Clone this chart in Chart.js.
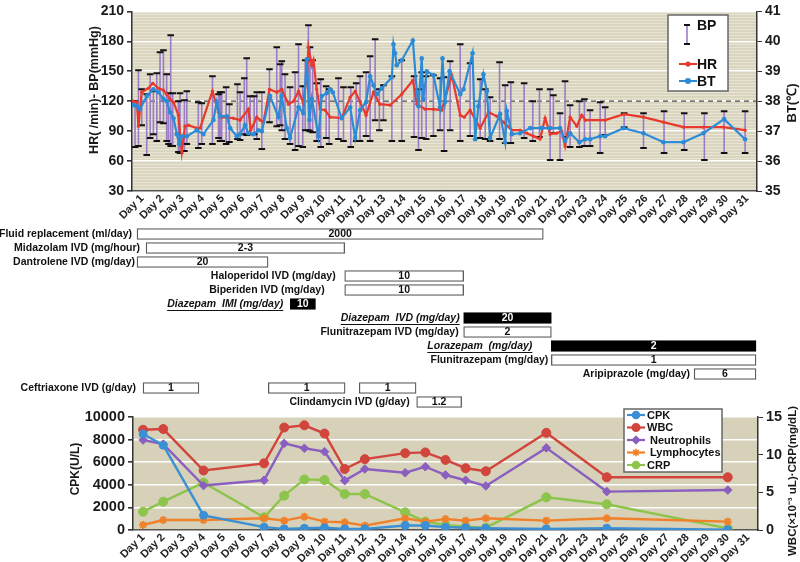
<!DOCTYPE html>
<html><head><meta charset="utf-8">
<script src="https://cdn.jsdelivr.net/npm/chart.js@4.4.1/dist/chart.umd.min.js"></script>
<style>
html,body{margin:0;padding:0;background:#fff;}
#wrap{position:relative;width:800px;height:562px;overflow:hidden;}
canvas{position:absolute;left:0;}
</style></head><body>
<div id="wrap">
<canvas id="cTop" width="800" height="228" style="top:0px"></canvas>
<canvas id="cMid" width="800" height="190" style="top:222px"></canvas>
<canvas id="cBot" width="800" height="162" style="top:400px"></canvas>
</div>
<script>
// ---------------- DATA ----------------
const dayNums = [1,2,3,4,5,6,7,8,9,10,11,12,13,14,15,16,17,18,19,20,21,22,23,24,25,26,27,28,29,30,31];
const dayLabels = dayNums.map(d => 'Day ' + d);

// Blood pressure (mmHg): time in days, systolic (high) and diastolic (low)
const bpDay = [0.65,0.82,0.98,1.23,1.40,1.56,1.73,1.89,2.06,2.22,2.31,2.42,2.52,2.80,2.88,3.10,3.22,3.79,3.96,4.49,4.79,4.87,4.95,5.17,5.33,5.73,5.86,6.07,6.19,6.36,6.56,6.69,6.94,7.32,7.68,
  7.85,7.93,8.09,8.34,8.59,8.76,8.97,9.09,9.25,9.33,9.46,9.66,9.86,10.13,10.28,10.74,10.99,11.35,11.62,11.81,12.11,12.31,12.56,12.77,12.97,13.39,13.88,14.49,14.71,14.87,15.09,15.45,15.78,15.98,16.28,16.78,17.27,17.77,18.02,18.26,18.73,19.01,19.29,
  19.95,20.38,20.71,21.24,21.40,21.73,21.98,22.23,22.69,22.94,23.22,23.72,23.97,24.91,25.87,26.89,27.89,28.89,29.87,30.91];
const bpHigh = [120,151,132,127,147,130,148,169,171,147,128,186,128,120,128,121,130,119,118,145,127,129,129,134,117,137,129,143,163,125,125,129,129,152,174,
  157,160,147,134,149,177,135,161,196,174,161,138,142,135,132,143,134,134,138,145,149,165,182,132,136,145,161,145,132,149,145,146,143,144,160,177,158,142,132,124,159,136,139,
  138,120,132,132,126,108,140,116,120,122,111,119,114,108,108,110,108,108,110,110];
const bpLow = [74,75,96,66,83,87,80,99,98,80,77,75,75,69,68,70,77,73,77,77,83,80,80,77,79,82,81,87,86,87,87,82,72,99,95,
  96,91,82,77,71,75,74,91,91,90,89,80,74,83,77,82,80,74,80,80,85,80,101,91,101,80,80,84,71,83,82,85,91,70,91,80,85,83,82,80,82,78,78,
  83,80,84,61,88,61,84,74,74,75,75,68,86,94,73,68,71,61,68,68];

// Heart rate (/min)
const hrDay = [0.57,0.74,0.82,0.98,1.31,1.53,1.81,2.06,2.22,2.39,2.56,2.80,2.97,3.13,3.30,3.71,3.88,4.49,4.79,4.95,5.53,5.86,6.27,6.39,6.69,6.86,7.02,7.32,7.68,
  7.93,8.26,8.51,8.76,9.00,9.17,9.25,9.42,9.50,9.66,9.83,10.08,10.33,10.90,11.32,11.57,12.11,12.48,12.80,13.30,13.88,14.43,14.63,15.04,15.45,15.86,16.36,16.78,16.98,17.27,17.77,18.18,18.59,18.92,19.34,
  19.75,20.08,20.41,20.74,20.99,21.24,21.57,21.82,21.98,22.23,22.56,22.81,22.98,23.97,24.91,25.87,26.86,27.85,28.84,29.84,30.91];
const hrVal = [120,119,95,129,133,138,133,131,127,122,119,106,69,95,96,93,93,130,109,104,103,101,112,91,104,101,99,132,129,
  132,117,120,130,118,145,174,156,161,132,112,111,104,103,124,130,106,129,117,116,127,141,117,112,112,111,146,106,104,111,93,109,105,99,91,
  91,88,85,82,103,87,88,90,75,104,95,106,101,101,107,104,99,94,94,94,91];

// Body temperature (deg C)
const btDay = [0.57,0.74,0.90,1.23,1.56,1.81,2.06,2.22,2.39,2.56,2.72,2.84,2.97,3.22,3.71,4.04,4.54,4.70,4.87,5.20,5.37,5.70,5.86,6.11,6.27,6.52,6.77,6.94,
  7.35,7.76,7.93,8.18,8.34,8.76,9.00,9.17,9.30,9.42,9.75,9.91,10.16,10.33,10.46,10.90,11.32,11.57,11.81,12.11,12.31,12.48,12.64,12.89,13.39,13.47,13.55,13.63,13.88,14.43,14.63,14.71,14.87,14.95,15.12,15.45,15.78,15.90,16.03,16.25,16.78,16.94,17.39,17.52,17.68,17.93,18.10,18.26,18.76,19.01,19.09,19.34,
  19.75,20.25,20.82,21.24,21.73,21.98,22.23,22.69,22.98,23.22,23.72,23.97,24.88,25.87,26.86,27.85,28.84,29.87,30.91];
const btVal = [37.87,37.83,37.73,38.17,38.40,38.30,38.07,38.0,37.63,37.43,36.9,36.57,36.83,36.83,37.03,36.9,37.37,37.97,37.5,37.5,37.1,36.83,36.9,37.2,36.93,36.9,37.03,37.0,
  38.17,37.47,38.17,37.1,36.77,37.8,37.6,39.4,37.37,38.07,36.83,38.17,38.27,38.4,38.3,37.43,37.8,36.77,37.7,37.97,38.83,38.53,38.23,38.43,38.8,39.9,39.6,39.2,39.37,40.03,38.3,37.83,39.43,38.07,39.0,38.87,37.8,39.43,37.97,39.0,38.23,38.4,39.6,36.73,37.83,38.9,38.33,36.77,37.57,36.63,37.67,36.9,
  36.93,37.1,37.1,37.1,37.1,36.67,36.93,36.63,36.73,36.73,36.83,36.83,37.1,36.93,36.63,36.63,36.93,37.4,36.73];
const feverLine = 38;

// Treatments
const rowKeys = ['r0','r1','r2','r3','r4','r5','r6','r7','r8','r9','r10','r11','r12'];
const drugNames = ['Fluid replacement (ml/day)','Midazolam IVD (mg/hour)','Dantrolene IVD (mg/day)','Haloperidol IVD (mg/day)','Biperiden IVD (mg/day)',
  'Diazepam  IMI (mg/day)','Diazepam  IVD (mg/day)','Flunitrazepam IVD (mg/day)','Lorazepam  (mg/day)','Flunitrazepam (mg/day)','Aripiprazole (mg/day)',
  'Ceftriaxone IVD (g/day)','','','Clindamycin IVD (g/day)'];
const drugRow   = [0,1,2,3,4,5,6,7,8,9,10,11,11,11,12];
const drugStart = [0.75,1.2,0.75,11.05,11.05,8.35,16.95,16.95,21.3,21.3,28.38,1.05,7.26,11.77,14.62];
const drugEnd   = [20.9,11.05,7.25,16.95,16.95,9.6,21.3,21.3,31.45,31.45,31.45,3.82,11.07,14.59,16.85];
const drugDose  = ['2000','2-3','20','10','10','10','20','2','2','1','6','1','1','1','1.2'];
const drugFilled= [false,false,false,false,false,true,true,false,true,false,false,false,false,false,false];

// Laboratory data
const labDays = [1,2,4,7,8,9,10,11,12,14,15,16,17,18,21,24,30];
const cpk   = [8500,7500,1300,250,100,150,200,100,100,400,400,250,200,150,100,150,30];
const wbc   = [13.3,13.4,7.9,8.85,13.6,13.9,12.8,8.1,9.4,10.2,10.3,9.3,8.2,7.8,12.9,7.0,7.0];
const neut  = [11.95,11.4,5.9,6.6,11.5,10.85,10.4,6.55,8.1,7.6,8.4,7.3,6.6,5.85,10.9,5.1,5.3];
const lymph = [0.66,1.33,1.33,1.55,1.24,1.77,1.11,1.02,0.58,1.55,1.11,1.46,1.24,1.55,1.24,1.55,1.11];
const crp   = [2.43,3.76,6.28,1.68,4.56,6.72,6.64,4.78,4.78,2.35,1.11,0.66,0.44,0.31,4.34,3.41,0.22];

// ---------------- STYLE ----------------
const FONT = "'Liberation Sans', Arial, Helvetica, sans-serif";
Chart.defaults.font.family = FONT;
Chart.defaults.color = '#1a1a1a';
const BP_C = '#9a7cc6', HR_C = '#e8392c', BT_C = '#2b8bd6';
const CPK_C = '#3b8fd4', WBC_C = '#d1453d', NEU_C = '#8a5fc0', LYM_C = '#f0802a', CRP_C = '#8dc44c';
const drugLabelGap = [5,6,2,9,20,7,4,5,19,3,4,7,0,0,7];

function bgPlugin(color){
  return {id:'bg', beforeDraw(chart){
    const {ctx, chartArea:a} = chart; ctx.save(); ctx.fillStyle = color;
    ctx.fillRect(a.left, a.top, a.right-a.left, a.bottom-a.top); ctx.restore();
  }};
}
function vText(ctx, text, x, y, font){
  ctx.save(); ctx.translate(x, y); ctx.rotate(-Math.PI/2);
  ctx.font = font; ctx.fillStyle = '#1a1a1a'; ctx.textAlign = 'center'; ctx.textBaseline = 'middle';
  ctx.fillText(text, 0, 0); ctx.restore();
}
function marker(ctx, style, x, y, r, color){
  ctx.save(); ctx.fillStyle = color; ctx.strokeStyle = color; ctx.lineWidth = 1.5;
  if (Chart.helpers && Chart.helpers.drawPoint) {
    Chart.helpers.drawPoint(ctx, {pointStyle: style, radius: r, borderWidth: 1.5, rotation: 0}, x, y);
  } else { ctx.beginPath(); ctx.arc(x, y, r, 0, Math.PI*2); ctx.fill(); }
  ctx.restore();
}
function xDayScale(h){
  return {type:'linear', min:0.5, max:31.5,
    afterBuildTicks: ax => { ax.ticks = dayNums.map(v => ({value:v})); },
    ticks:{autoSkip:false, maxRotation:45, minRotation:45, padding:1, font:{size:11, weight:'bold'}, color:'#222',
      callback: v => dayLabels[Math.round(v)-1]},
    grid:{display:false, drawTicks:false}, border:{display:true, color:'#555', width:1.5},
    afterFit: ax => { ax.height = h; }};
}
const plainNum = v => String(v);

// ---------------- TOP CHART ----------------
const bpSegments = [];
bpDay.forEach((d,i) => { bpSegments.push({x:d,y:bpLow[i]}, {x:d,y:bpHigh[i]}, {x:d,y:null}); });
const bpCaps = [];
bpDay.forEach((d,i) => { bpCaps.push({x:d,y:bpLow[i]}, {x:d,y:bpHigh[i]}); });

const topDeco = {id:'topDeco', afterDraw(chart){
  const ctx = chart.ctx;
  vText(ctx, 'HR( /min)- BP(mmHg)', 95, 90, 'bold 12.5px ' + FONT);
  vText(ctx, 'BT(\u2103)', 792, 103, 'bold 13px ' + FONT);
  // legend
  ctx.save();
  ctx.fillStyle = '#fff'; ctx.strokeStyle = '#666'; ctx.lineWidth = 1.5;
  ctx.fillRect(668, 15, 60, 76); ctx.strokeRect(668, 15, 60, 76);
  ctx.strokeStyle = BP_C; ctx.lineWidth = 1.6;
  ctx.beginPath(); ctx.moveTo(687, 25); ctx.lineTo(687, 44); ctx.stroke();
  ctx.strokeStyle = '#111'; ctx.lineWidth = 2;
  ctx.beginPath(); ctx.moveTo(684, 25); ctx.lineTo(690, 25); ctx.moveTo(684, 44); ctx.lineTo(690, 44); ctx.stroke();
  ctx.font = 'bold 14px ' + FONT; ctx.fillStyle = '#111'; ctx.textAlign = 'left'; ctx.textBaseline = 'middle';
  ctx.fillText('BP', 697, 26);
  ctx.strokeStyle = HR_C; ctx.lineWidth = 2;
  ctx.beginPath(); ctx.moveTo(679, 64); ctx.lineTo(697, 64); ctx.stroke();
  marker(ctx, 'circle', 688, 64, 1.8, HR_C);
  ctx.fillText('HR', 697, 65);
  ctx.strokeStyle = BT_C; ctx.lineWidth = 2;
  ctx.beginPath(); ctx.moveTo(679, 81); ctx.lineTo(697, 81); ctx.stroke();
  marker(ctx, 'circle', 688, 81, 2.3, BT_C);
  ctx.fillText('BT', 697, 82);
  ctx.restore();
}};

new Chart(document.getElementById('cTop'), {
  type:'line',
  data:{datasets:[
    {type:'line', label:'BP', data:bpSegments, borderColor:BP_C, borderWidth:1.6, pointRadius:0, spanGaps:false, yAxisID:'y', order:6},
    {type:'scatter', label:'BP caps', data:bpCaps, pointStyle:'line', pointRadius:3.3, pointBorderWidth:2, pointBorderColor:'#111', pointBackgroundColor:'#111', yAxisID:'y', order:5},
    {type:'line', label:'38', data:[{x:0.5,y:feverLine},{x:31.5,y:feverLine}], borderColor:'#4a4a4a', borderWidth:1.3, borderDash:[5,4], pointRadius:0, yAxisID:'y1', order:7},
    {type:'line', label:'HR', data:hrDay.map((d,i)=>({x:d,y:hrVal[i]})), borderColor:HR_C, borderWidth:2.2, pointRadius:1.6, pointBackgroundColor:HR_C, pointBorderWidth:0, yAxisID:'y', order:2},
    {type:'line', label:'BT', data:btDay.map((d,i)=>({x:d,y:btVal[i]})), borderColor:BT_C, borderWidth:2.2, pointRadius:2.3, pointBackgroundColor:BT_C, pointBorderWidth:0, yAxisID:'y1', order:1}
  ]},
  options:{
    responsive:false, animation:false, devicePixelRatio:1,
    layout:{padding:{top:6, left:0, right:0, bottom:0}},
    plugins:{legend:{display:false}, tooltip:{enabled:false}},
    scales:{
      x: xDayScale(37),
      y: {type:'linear', position:'left', min:30, max:210,
        ticks:{stepSize:30, font:{size:14, weight:'bold'}, color:'#1a1a1a', padding:3, callback: plainNum},
        grid:{color:'#ffffff', lineWidth:1.6, tickColor:'#333', tickLength:5}, border:{color:'#333', width:1.5},
        afterFit: ax => { ax.width = 132; }},
      ym: {type:'linear', position:'left', min:30, max:210,
        ticks:{stepSize:3, display:false},
        grid:{color: c => (c.tick && Math.round(c.tick.value) % 30 === 0) ? 'rgba(0,0,0,0)' : '#e8e5d6', lineWidth:1, drawTicks:false},
        border:{display:false}, afterFit: ax => { ax.width = 0; }},
      y1: {type:'linear', position:'right', min:35, max:41,
        ticks:{stepSize:1, font:{size:14, weight:'bold'}, color:'#1a1a1a', padding:3, callback: plainNum},
        grid:{drawOnChartArea:false, tickColor:'#333', tickLength:5}, border:{color:'#333', width:1.5},
        afterFit: ax => { ax.width = 43; }}
    }
  },
  plugins:[bgPlugin('#d9d5be'), topDeco]
});

// ---------------- TREATMENT CHART ----------------
const drugText = {id:'drugText', afterDatasetsDraw(chart){
  const ctx = chart.ctx; const meta = chart.getDatasetMeta(0);
  ctx.save(); ctx.textBaseline = 'middle';
  meta.data.forEach((bar, i) => {
    const p = bar.getProps(['x','base','y'], true);
    const left = Math.min(p.x, p.base), right = Math.max(p.x, p.base);
    ctx.font = 'bold 10.5px ' + FONT; ctx.textAlign = 'center';
    ctx.fillStyle = drugFilled[i] ? '#fff' : '#111';
    ctx.fillText(drugDose[i], (left+right)/2, p.y + 0.5);
    if (drugNames[i]) {
      ctx.font = (drugFilled[i] ? 'italic ' : '') + 'bold 10.5px ' + FONT;
      ctx.textAlign = 'right'; ctx.fillStyle = '#111';
      const tx = left - drugLabelGap[i];
      ctx.fillText(drugNames[i], tx, p.y + 0.5);
      if (drugFilled[i]) {
        const w = ctx.measureText(drugNames[i]).width;
        ctx.strokeStyle = '#111'; ctx.lineWidth = 1;
        ctx.beginPath(); ctx.moveTo(tx - w, p.y + 6.5); ctx.lineTo(tx, p.y + 6.5); ctx.stroke();
      }
    }
  });
  ctx.restore();
}};

new Chart(document.getElementById('cMid'), {
  type:'bar',
  data:{labels:rowKeys, datasets:[{
    data: drugStart.map((s,i) => ({x:[s, drugEnd[i]], y:rowKeys[drugRow[i]]})),
    backgroundColor: c => drugFilled[c.dataIndex] ? '#000' : '#fff',
    borderColor: c => drugFilled[c.dataIndex] ? '#000' : '#5a5a5a',
    borderWidth:1.3, borderSkipped:false, barThickness:11
  }]},
  options:{
    indexAxis:'y', responsive:false, animation:false, devicePixelRatio:1,
    layout:{padding:{left:132, right:43, top:5, bottom:3}},
    plugins:{legend:{display:false}, tooltip:{enabled:false}},
    scales:{
      x:{type:'linear', display:false, min:0.5, max:31.5},
      y:{type:'category', display:false, labels:rowKeys, offset:true}
    }
  },
  plugins:[drugText]
});

// ---------------- LAB CHART ----------------
const botDeco = {id:'botDeco', afterDraw(chart){
  const ctx = chart.ctx;
  vText(ctx, 'CPK(U/L)', 76, 69, 'bold 12px ' + FONT);
  vText(ctx, 'WBC(\u00d710\u207b\u00b3 uL)\u00b7CRP(mg/dL)', 793, 81, 'bold 11.5px ' + FONT);
  ctx.save();
  ctx.fillStyle = '#fff'; ctx.strokeStyle = '#666'; ctx.lineWidth = 1.5;
  ctx.fillRect(624, 9, 98, 63); ctx.strokeRect(624, 9, 98, 63);
  const items = [['CPK', CPK_C, 'circle', 3.5, 15, 647], ['WBC', WBC_C, 'circle', 3.8, 27.5, 647],
    ['Neutrophils', NEU_C, 'rectRot', 3.6, 40, 650], ['Lymphocytes', LYM_C, 'star', 3.8, 52.5, 650], ['CRP', CRP_C, 'circle', 3.5, 65, 647]];
  ctx.font = 'bold 11px ' + FONT; ctx.textAlign = 'left'; ctx.textBaseline = 'middle';
  items.forEach(it => {
    ctx.strokeStyle = it[1]; ctx.lineWidth = 2.2;
    ctx.beginPath(); ctx.moveTo(627, it[4]); ctx.lineTo(645, it[4]); ctx.stroke();
    marker(ctx, it[2], 636, it[4], it[3], it[1]);
    ctx.fillStyle = '#111'; ctx.fillText(it[0], it[5], it[4] + 0.5);
  });
  ctx.restore();
}};

function labSet(label, vals, color, style, r, axis, order){
  return {label, data: labDays.map((d,i)=>({x:d, y:vals[i]})), borderColor:color, backgroundColor:color,
    pointBackgroundColor:color, pointBorderColor:color, pointBorderWidth: style === 'star' ? 2 : 1,
    pointStyle:style, pointRadius:r, borderWidth:2.4, yAxisID:axis, order};
}

new Chart(document.getElementById('cBot'), {
  type:'line',
  data:{datasets:[
    labSet('CPK', cpk, CPK_C, 'circle', 4, 'y', 1),
    labSet('WBC', wbc, WBC_C, 'circle', 4.5, 'y1', 2),
    labSet('Neutrophils', neut, NEU_C, 'rectRot', 4.3, 'y1', 3),
    labSet('Lymphocytes', lymph, LYM_C, 'star', 4, 'y1', 4),
    labSet('CRP', crp, CRP_C, 'circle', 4.5, 'y1', 5)
  ]},
  options:{
    responsive:false, animation:false, devicePixelRatio:1,
    layout:{padding:{top:17, left:0, right:0, bottom:0}},
    plugins:{legend:{display:false}, tooltip:{enabled:false}},
    scales:{
      x: xDayScale(32),
      y: {type:'linear', position:'left', min:0, max:10000,
        ticks:{stepSize:2000, font:{size:14.5, weight:'bold'}, color:'#1a1a1a', padding:3, callback: plainNum},
        grid:{color:'#ffffff', lineWidth:1.6, tickColor:'#333', tickLength:5}, border:{color:'#333', width:1.5},
        afterFit: ax => { ax.width = 133; }},
      y1: {type:'linear', position:'right', min:0, max:15,
        ticks:{stepSize:5, font:{size:14.5, weight:'bold'}, color:'#1a1a1a', padding:3, callback: plainNum},
        grid:{drawOnChartArea:false, tickColor:'#333', tickLength:5}, border:{color:'#333', width:1.5},
        afterFit: ax => { ax.width = 42; }}
    }
  },
  plugins:[bgPlugin('#d6d1b8'), botDeco]
});
</script>
</body></html>
